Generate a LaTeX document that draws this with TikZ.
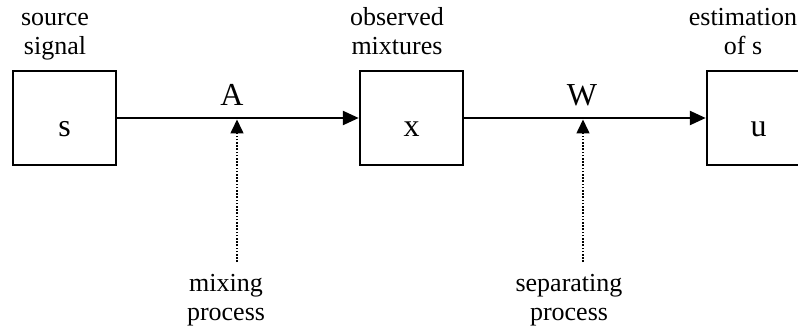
\documentclass[tikz,border=0pt]{standalone}
\usepackage{fontspec}
\setmainfont{Liberation Serif}
\usetikzlibrary{arrows.meta}
\begin{document}
\begin{tikzpicture}[x=1pt,y=-1pt,
  blk/.style={draw,line width=2.5pt,minimum width=103pt,minimum height=94pt,inner sep=0pt,text height=38pt,text depth=0pt,font=\fontsize{32}{36}\selectfont},
  lbl/.style={align=center,inner sep=0pt,anchor=base,font=\fontsize{26}{29}\selectfont},
  big/.style={inner sep=0pt,anchor=base,font=\fontsize{32}{36}\selectfont},
  arr/.style={line width=2.5pt,-{Triangle[length=16pt,width=14pt]}},
  darr/.style={line width=1.6pt,dash pattern=on 1.6pt off 1.6pt,-{Triangle[length=14pt,width=13pt]}}]
\useasboundingbox (0,0) rectangle (798,334);
\node[blk] (bs) at (64.5,118) {s};
\node[blk] (bx) at (411.5,118) {x};
\node[blk] (bu) at (758.5,118) {u};
\node[lbl] (ls) at (55,55) {source\\signal};
\node[lbl] (lx) at (397,55) {observed\\mixtures};
\node[lbl] (lu) at (743,55) {estimation\\of s};
\node[big] (la) at (232,106) {A};
\node[big] (lw) at (582,106) {W};
\node[lbl] (lm) at (226,320) {mixing\\process};
\node[lbl] (lsep) at (569,320) {separating\\process};
\draw[arr] (bs.east) -- (bx.west);
\draw[arr] (bx.east) -- (bu.west);
\coordinate (m0) at (237,262);
\coordinate (m1) at (237,119.5);
\coordinate (w0) at (583,262);
\coordinate (w1) at (583,119.5);
\draw[darr] (m0) -- (m1);
\draw[darr] (w0) -- (w1);
\end{tikzpicture}
\end{document}
